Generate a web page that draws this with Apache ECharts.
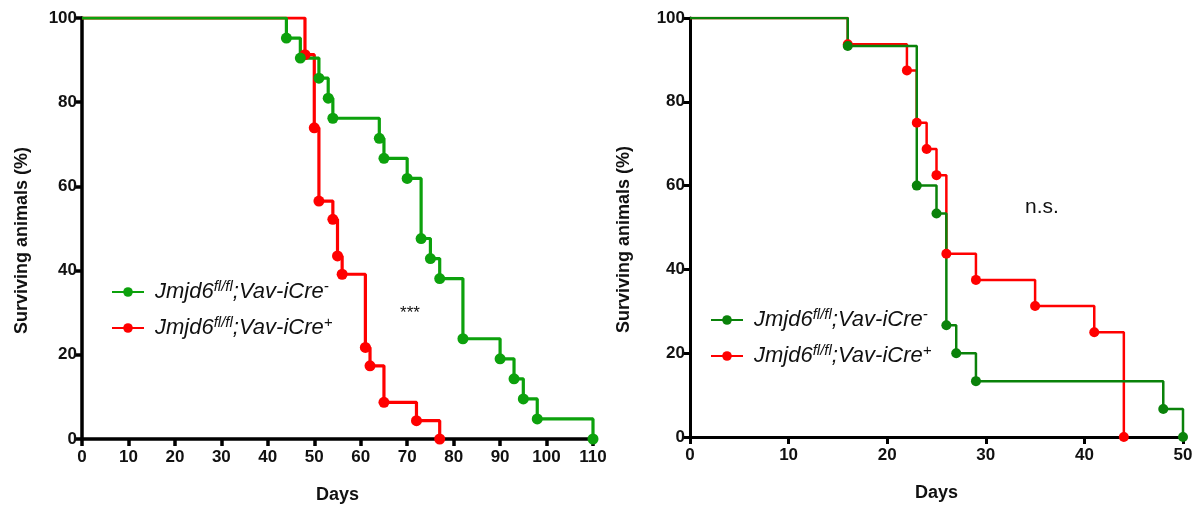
<!DOCTYPE html>
<html>
<head>
<meta charset="utf-8">
<script src="https://cdn.jsdelivr.net/npm/echarts@6/dist/echarts.min.js"></script>
<style>
  html, body { margin: 0; padding: 0; background: #fff; }
  #chart { width: 1198px; height: 509px; }
</style>
</head>
<body>
<div id="chart"></div>
<script>
// 左图：存活曲线（天数 / 存活百分比）
const leftDaysNeg = [0, 44, 47, 51, 53, 54, 64, 65, 70, 73, 75, 77, 82, 90, 93, 95, 98, 110];
const leftSurvNeg = [100, 95.24, 90.48, 85.71, 80.95, 76.19, 71.43, 66.67, 61.90, 47.62, 42.86, 38.10, 23.81, 19.05, 14.29, 9.52, 4.76, 0];
const leftDaysPos = [0, 48, 50, 51, 54, 55, 56, 61, 62, 65, 72, 77];
const leftSurvPos = [100, 91.30, 73.91, 56.52, 52.17, 43.48, 39.13, 21.74, 17.39, 8.70, 4.35, 0];

// 右图
const rightDaysNeg = [0, 16, 23, 25, 26, 27, 29, 48, 50];
const rightSurvNeg = [100, 93.33, 60, 53.33, 26.67, 20, 13.33, 6.67, 0];
const rightDaysPos = [0, 16, 22, 23, 24, 25, 26, 29, 35, 41, 44];
const rightSurvPos = [100, 93.75, 87.5, 75, 68.75, 62.5, 43.75, 37.5, 31.25, 25, 0];

// 刻度
const leftXTicks = { min: 0, max: 110, interval: 10 };
const rightXTicks = { min: 0, max: 50, interval: 10 };
const yTicks = { min: 0, max: 100, interval: 20 };

const FONT = 'Arial, "Liberation Sans", sans-serif';

// 图例文字（上标）
const legendNames = {
  L_neg: '{i|Jmjd6}{s|fl/fl}{i|;Vav-iCre}{s|-}',
  L_pos: '{i|Jmjd6}{s|fl/fl}{i|;Vav-iCre}{s|+}',
  R_neg: '{i|Jmjd6}{s|fl/fl}{i|;Vav-iCre}{s|-}',
  R_pos: '{i|Jmjd6}{s|fl/fl}{i|;Vav-iCre}{s|+}',
};

function toPoints(days, surv) {
  return days.map((d, i) => ({
    value: [d, surv[i]],
    symbol: i === 0 ? 'none' : 'circle',
  }));
}

function makeSeries(name, days, surv, color, idx, width, size) {
  return {
    name,
    type: 'line',
    step: 'end',
    xAxisIndex: idx,
    yAxisIndex: idx,
    data: toPoints(days, surv),
    symbol: 'circle',
    symbolSize: size,
    showAllSymbol: true,
    lineStyle: { color, width },
    itemStyle: { color },
    emphasis: { disabled: true },
    animation: false,
  };
}

function makeXAxis(idx, ticks, lw) {
  return {
    type: 'value',
    gridIndex: idx,
    min: ticks.min,
    max: ticks.max,
    interval: ticks.interval,
    name: 'Days',
    nameLocation: 'middle',
    nameGap: 47,
    nameTextStyle: { fontFamily: FONT, fontWeight: 'bold', fontSize: 18, color: '#111' },
    axisLine: { onZero: false, lineStyle: { color: '#000', width: lw } },
    axisTick: { show: true, inside: false, length: 7, lineStyle: { color: '#000', width: lw } },
    axisLabel: { fontFamily: FONT, fontWeight: 'bold', fontSize: 17, color: '#111', margin: 10 },
    splitLine: { show: false },
  };
}

function makeYAxis(idx, gap, lw) {
  return {
    type: 'value',
    gridIndex: idx,
    min: yTicks.min,
    max: yTicks.max,
    interval: yTicks.interval,
    name: 'Surviving animals (%)',
    nameLocation: 'middle',
    nameGap: gap,
    nameTextStyle: { fontFamily: FONT, fontWeight: 'bold', fontSize: 18, color: '#111', padding: [0, 24, 0, 0] },
    axisLine: { onZero: false, lineStyle: { color: '#000', width: lw } },
    axisTick: { show: true, inside: false, length: 7, lineStyle: { color: '#000', width: lw } },
    axisLabel: { fontFamily: FONT, fontWeight: 'bold', fontSize: 17, color: '#111', margin: 5 },
    splitLine: { show: false },
  };
}

const richText = {
  i: { fontFamily: FONT, fontStyle: 'italic', fontSize: 22, color: '#111', lineHeight: 26 },
  s: { fontFamily: FONT, fontStyle: 'italic', fontSize: 15, color: '#111', lineHeight: 26, verticalAlign: 'top' },
};

function makeLegend(left, top, names) {
  return {
    orient: 'vertical',
    left,
    top,
    data: names,
    itemWidth: 32,
    itemHeight: 12,
    itemGap: 12,
    selectedMode: false,
    formatter: (n) => legendNames[n],
    textStyle: { rich: richText, padding: [0, 0, 0, 6] },
  };
}

const chart = echarts.init(document.getElementById('chart'), null, { renderer: 'canvas' });

const option = {
  backgroundColor: '#fff',
  animation: false,
  grid: [
    { left: 82, top: 18, width: 511, height: 422 },
    { left: 690, top: 18, width: 493, height: 419 },
  ],
  xAxis: [makeXAxis(0, leftXTicks, 3.5), makeXAxis(1, rightXTicks, 3)],
  yAxis: [makeYAxis(0, 51, 3.5), makeYAxis(1, 57, 3)],
  legend: [
    makeLegend(106, 274, ['L_neg', 'L_pos']),
    makeLegend(705, 302, ['R_neg', 'R_pos']),
  ],
  series: [
    makeSeries('L_pos', leftDaysPos, leftSurvPos, '#ff0000', 0, 3.2, 11),
    makeSeries('L_neg', leftDaysNeg, leftSurvNeg, '#0ca10c', 0, 3.2, 11),
    makeSeries('R_pos', rightDaysPos, rightSurvPos, '#ff0000', 1, 2.5, 10),
    makeSeries('R_neg', rightDaysNeg, rightSurvNeg, '#0a820a', 1, 2.5, 10),
  ],
  graphic: [
    { type: 'text', x: 410, y: 313, style: { text: '***', fontFamily: FONT, fontSize: 17, fill: '#111', align: 'center', verticalAlign: 'middle' } },
    { type: 'text', x: 1042, y: 207, style: { text: 'n.s.', fontFamily: FONT, fontSize: 21, fill: '#111', align: 'center', verticalAlign: 'middle' } },
  ],
};

chart.setOption(option);
</script>
</body>
</html>
